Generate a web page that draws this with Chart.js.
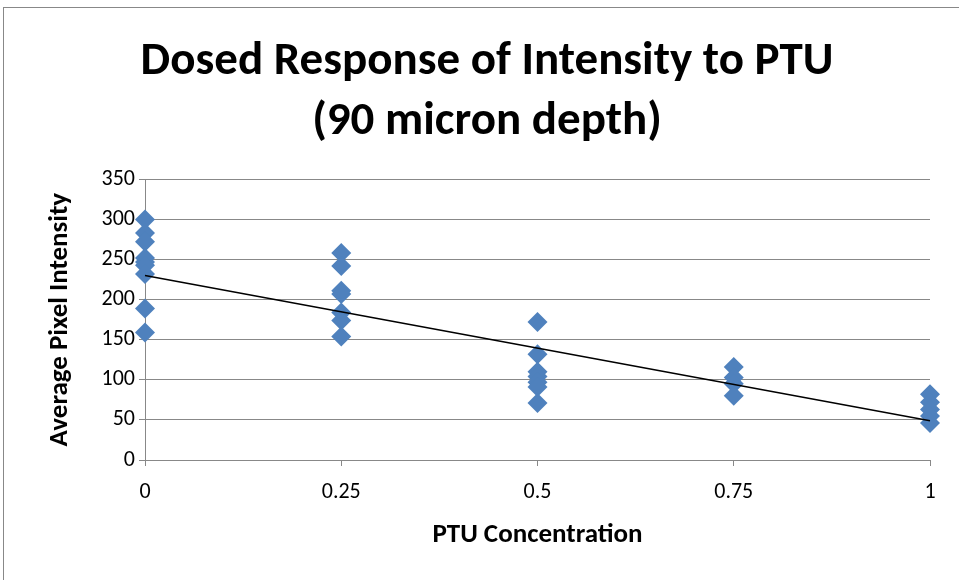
<!DOCTYPE html>
<html>
<head>
<meta charset="utf-8">
<script src="https://cdn.jsdelivr.net/npm/chart.js@4"></script>
<style>
    html, body { margin: 0; padding: 0; background: #fff; }
    #frame { position: absolute; left: 3px; top: 7px; width: 970px; height: 600px; border: 1px solid #888; }
    #holder { position: absolute; left: 0; top: 0; width: 959px; height: 580px; }
</style>
</head>
<body>
<div id="frame"></div>
<div id="holder"><canvas id="chart-area"></canvas></div>
<script>
// PTU concentration groups and the pixel intensity readings at each
var conc0 = [300, 283, 272, 252, 247, 243, 232, 189, 159];
var conc025 = [258, 242, 211, 207, 184, 174, 154];
var conc05 = [172, 132, 110, 104, 97, 91, 71];
var conc075 = [116, 103, 95, 80];
var conc1 = [82, 72, 63, 55, 46];
var trendX = [0, 1];
var trendY = [230, 49];
var xTicks = [0, 0.25, 0.5, 0.75, 1];

var groups = [[0, conc0], [0.25, conc025], [0.5, conc05], [0.75, conc075], [1, conc1]];
var points = [];
groups.forEach(function (g) {
    g[1].forEach(function (v) { points.push({ x: g[0], y: v }); });
});
var trend = trendX.map(function (x, i) { return { x: x, y: trendY[i] }; });

var font = "Carlito, Calibri, 'Open Sans', sans-serif";
var padLeft = 44, padBottom = 29;

var config = {
    type: 'scatter',
    data: {
        datasets: [{
            label: 'Intensity',
            data: points,
            pointStyle: 'rectRot',
            pointRadius: 10,
            pointHoverRadius: 10,
            backgroundColor: '#4F81BD',
            borderColor: '#4F81BD',
            borderWidth: 0,
            clip: false,
            order: 2
        }, {
            label: 'Trend',
            type: 'line',
            data: trend,
            borderColor: '#000',
            borderWidth: 1.5,
            pointRadius: 0,
            fill: false,
            clip: false,
            order: 1
        }]
    },
    options: {
        responsive: true,
        maintainAspectRatio: false,
        animation: false,
        layout: { padding: { left: padLeft, right: 29, top: 32, bottom: padBottom } },
        plugins: {
            legend: { display: false },
            tooltip: { enabled: false },
            title: {
                display: true,
                text: ['Dosed Response of Intensity to PTU', '(90 micron depth)'],
                color: '#000',
                font: { family: font, size: 47, weight: 'bold', lineHeight: 1.28 },
                padding: { top: 0, bottom: 27 }
            }
        },
        scales: {
            x: {
                type: 'linear',
                min: 0,
                max: 1,
                afterBuildTicks: function (axis) {
                    axis.ticks = xTicks.map(function (v) { return { value: v }; });
                },
                afterFit: function (axis) { axis.height = 580 - 460 - padBottom; },
                ticks: {
                    color: '#000',
                    font: { family: font, size: 22 },
                    padding: 13,
                    maxRotation: 0,
                    callback: function (v) { return String(v); }
                },
                grid: { drawOnChartArea: false, color: '#888', tickLength: 6 },
                border: { color: '#888' },
                title: {
                    display: true,
                    text: 'PTU Concentration',
                    color: '#000',
                    font: { family: font, size: 27, weight: 'bold' },
                    padding: 0
                }
            },
            y: {
                min: 0,
                max: 350,
                afterFit: function (axis) { axis.width = 145 - padLeft; },
                ticks: {
                    stepSize: 50,
                    color: '#000',
                    font: { family: font, size: 22 },
                    padding: 4
                },
                grid: { color: '#888', tickLength: 6 },
                border: { color: '#888' },
                title: {
                    display: true,
                    text: 'Average Pixel Intensity',
                    color: '#000',
                    font: { family: font, size: 27, weight: 'bold' },
                    padding: 0
                }
            }
        }
    }
};

function init() {
    var ctx = document.getElementById("chart-area").getContext("2d");
    window.myScatter = new Chart(ctx, config);
}
init();
</script>
</body>
</html>
